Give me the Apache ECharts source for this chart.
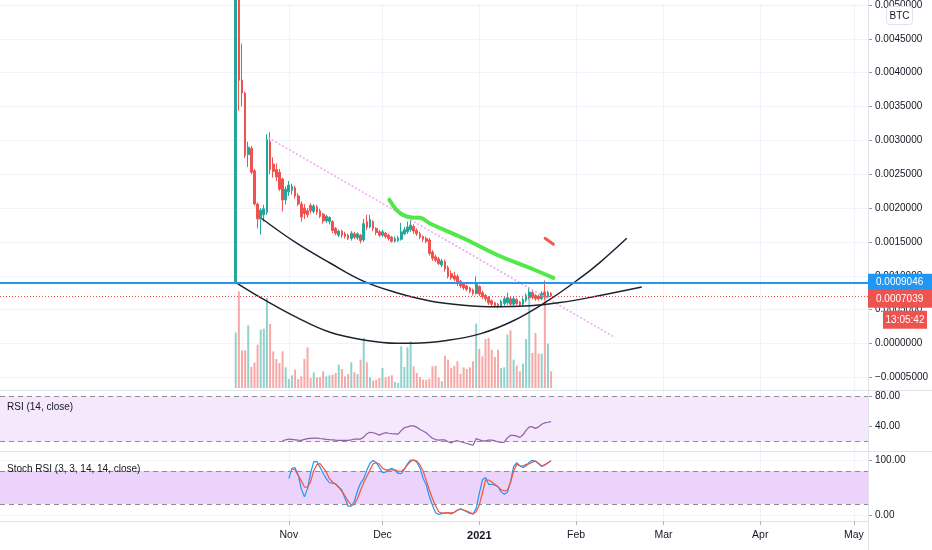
<!DOCTYPE html>
<html>
<head>
<meta charset="utf-8">
<script src="https://cdn.jsdelivr.net/npm/echarts@6/dist/echarts.min.js"></script>
<style>html,body{margin:0;padding:0;background:#fff}#c{width:932px;height:550px}</style>
</head>
<body>
<div id="c"></div>
<script>
// ---------- data ----------
const AXIS_START = '2020-08-01';
const AXIS_DAYS = 278;
const LABEL_FROM = '2020-11-01';
const FIRST_CANDLE = '2020-10-15';

const opens = [0.000905,0.00620,0.00389,0.00370,0.00279,0.00288,0.00255,0.00206,0.00184,0.00190,
0.00194,0.00298,0.00265,0.00257,0.00253,0.00243,0.00212,0.00224,0.00226,0.00230,
0.00218,0.00206,0.00200,0.00196,0.00204,0.00195,0.00202,0.00196,0.00191,0.00181,
0.00180,0.00180,0.00170,0.00160,0.00166,0.00162,0.00160,0.00155,0.00162,0.00156,
0.00160,0.00153,0.00180,0.00172,0.00180,0.00170,0.00165,0.00160,0.00163,0.00160,
0.00157,0.00151,0.00152,0.00154,0.00162,0.00165,0.00168,0.00173,0.00167,0.00162,
0.00158,0.00155,0.00153,0.00135,0.00128,0.00125,0.00116,0.00121,0.00112,0.00103,
0.00100,0.00099,0.00092,0.00088,0.00085,0.00082,0.00079,0.00074,0.00084,0.00075,
0.00071,0.00068,0.00063,0.00060,0.00058,0.00055,0.00059,0.00060,0.00066,0.00058,
0.00065,0.00061,0.00058,0.00064,0.00068,0.00075,0.00071,0.00070,0.00066,0.00076,
0.00069,0.00074];
const closes = [0.00620,0.00389,0.00370,0.00278,0.00290,0.00253,0.00206,0.00184,0.00197,0.00199,
0.00301,0.00257,0.00254,0.00246,0.00228,0.00212,0.00228,0.00234,0.00232,0.00218,
0.00206,0.00187,0.00192,0.00190,0.00196,0.00203,0.00194,0.00188,0.00181,0.00188,
0.00186,0.00167,0.00163,0.00166,0.00160,0.00158,0.00155,0.00163,0.00157,0.00162,
0.00152,0.00177,0.00172,0.00183,0.00170,0.00164,0.00160,0.00165,0.00158,0.00155,
0.00151,0.00155,0.00156,0.00165,0.00168,0.00172,0.00175,0.00166,0.00162,0.00157,
0.00154,0.00151,0.00133,0.00126,0.00123,0.00118,0.00122,0.00110,0.00099,0.00097,
0.00095,0.00089,0.00085,0.00082,0.00080,0.00077,0.00074,0.00088,0.00073,0.00069,
0.00066,0.00060,0.00058,0.00056,0.00055,0.00062,0.00066,0.00068,0.00058,0.00066,
0.00059,0.00057,0.00065,0.00071,0.00076,0.00068,0.00066,0.00066,0.00074,0.00069,
0.00075,0.0007039];
const lows = [0.00089,0.00344,0.00350,0.00274,0.00261,0.00250,0.00204,0.00170,0.00161,0.00180,
0.00190,0.00250,0.00245,0.00240,0.00225,0.00195,0.00205,0.00218,0.00220,0.00214,
0.00203,0.00180,0.00184,0.00186,0.00192,0.00192,0.00190,0.00185,0.00177,0.00178,
0.00176,0.00163,0.00160,0.00157,0.00156,0.00155,0.00153,0.00152,0.00154,0.00153,
0.00148,0.00150,0.00168,0.00170,0.00166,0.00160,0.00157,0.00157,0.00155,0.00152,
0.00149,0.00149,0.00150,0.00152,0.00160,0.00162,0.00165,0.00162,0.00159,0.00154,
0.00150,0.00148,0.00130,0.00122,0.00120,0.00116,0.00113,0.00106,0.00096,0.00094,
0.00092,0.00085,0.00082,0.00079,0.00077,0.00074,0.00071,0.00072,0.00070,0.00066,
0.00062,0.00057,0.00055,0.00053,0.00052,0.00053,0.00056,0.00057,0.00055,0.00055,
0.00056,0.00054,0.00055,0.00061,0.00065,0.00065,0.00063,0.00063,0.00064,0.00065,
0.00067,0.00069];
const highs = [0.00700,0.00650,0.00443,0.00372,0.00298,0.00292,0.00258,0.00208,0.00200,0.00205,
0.00309,0.00312,0.00275,0.00266,0.00258,0.00245,0.00232,0.00240,0.00236,0.00233,
0.00222,0.00210,0.00206,0.00200,0.00207,0.00206,0.00205,0.00199,0.00193,0.00190,
0.00188,0.00182,0.00172,0.00168,0.00168,0.00165,0.00162,0.00166,0.00165,0.00164,
0.00162,0.00184,0.00190,0.00190,0.00182,0.00172,0.00168,0.00168,0.00165,0.00162,
0.00159,0.00158,0.00159,0.00178,0.00172,0.00180,0.00182,0.00176,0.00170,0.00165,
0.00160,0.00158,0.00156,0.00138,0.00131,0.00128,0.00125,0.00124,0.00115,0.00108,
0.00106,0.00102,0.00094,0.00090,0.00087,0.00084,0.00081,0.00099,0.00086,0.00078,
0.00073,0.00070,0.00065,0.00062,0.00060,0.00065,0.00069,0.00075,0.00069,0.00069,
0.00067,0.00063,0.00068,0.00074,0.00083,0.00078,0.00073,0.00072,0.00077,0.00093,
0.00078,0.00076];
const volumes = [556,966,376,376,626,210,256,433,583,593,
900,640,366,290,250,367,207,90,127,183,
90,117,290,407,100,157,107,107,167,117,
127,133,150,233,190,117,140,257,157,140,
283,500,257,107,73,83,100,200,107,117,
127,60,50,417,210,407,467,217,150,110,
83,83,93,217,223,107,67,323,283,200,
223,267,140,207,190,207,267,643,390,317,
490,500,383,310,383,200,207,533,577,283,
223,167,243,490,910,350,550,343,343,966,
443,167];

const RSI_START = '2020-10-30';
const rsiValues = [21.3,22.5,23.5,23,22.5,22,21.8,23,24,24.3,
24.6,24.8,24.2,23.7,23.1,22.6,22.3,22,21.8,21.7,
21.7,21.7,22.4,23.5,23.5,23.5,26,30.5,32.3,31.7,
30.5,28.6,30.5,31.8,31.1,30.6,30.3,30,34.5,38.3,
39.5,40.7,40.8,38.8,36,34,31.7,28,24.5,22.8,
22,22.5,22.3,20,18.5,20.5,21.3,20,19,17.7,
16.5,15.3,24,22.5,21,21.2,22.2,22,21,19.7,
19,19.5,25,28.2,28.2,27.3,25.7,29,34.8,39.5,
39.6,37.5,39.4,42.8,44.8,45.5,46.4];

const STOCH_K_START = '2020-11-01';
const stochK = [66,85,86,73,47,33,48,77,97,97,
87,76,66,58.6,58,56.5,51,45,30,16,
16,25,44,58,66,82,94,99,95.5,86,
77,78,82,85,81,76,75,83,93,100,
100,96,85.5,67,55,34,18,4,1,2.5,
3.3,4,2,5,9,11.5,8.5,6,3,2.2,
12,39,64,68,55.8,55.8,54,51.7,42,37.6,
41.5,60,88,95,89,86.5,89,96,99.5,97.5,
93,88,91,95,98.5];
const STOCH_D_START = '2020-11-02';
const stochD = [84,82,72,62,51,50,61,81,91.5,93.5,
86,78,66,60,56,50,43,35,25,18,
19,30,45,59,70,82,93,95,92.5,85,
82,82,82,82,80,79,84,91,97,100,
98,91,80,63,46,30,17,6,3.5,3.8,
4,4,5,8.5,11,9,7,4.5,2,6,
18,40,63.6,63.6,60,56,51,46,44,45,
59,80,92,90,89,92,93,96,98,94,
89,91.5,95,98];

const priceTicks = [-0.0005,0,0.0005,0.001,0.0015,0.002,0.0025,0.003,0.0035,0.004,0.0045,0.005];
const priceView = [-0.000687, 0.0050146];
const volumeView = [0, 980];
const rsiTicks = [40, 80];
const rsiView = [7.8, 86.5];
const rsiBand = [20, 80];
const stochTicks = [0, 100];
const stochView = [-10.9, 114.5];
const stochBand = [20, 80];
const horizontalLevel = 0.0009046;
const lastPrice = 0.0007039;
const countdown = '13:05:42';

// user drawings: [days since AXIS_START, price]
const trendLine = [[85.44,0.003041],[196.49,0.0000877]];
const greenBrush = [[124.19,0.002124],[126.56,0.001969],[128.68,0.001896],[131.37,0.001861],[134.03,0.001857],[137.23,0.001773],[147.90,0.001554],[158.60,0.001311],[169.26,0.001115],[176.73,0.000969]];
const redBrush = [[174.07,0.001554],[176.73,0.001466]];
const arcLower = [[75.32,0.000892],[83.84,0.000654],[94.53,0.000385],[105.20,0.000165],[115.87,0.000054],[126.56,0.000004],[131.88,0.000004],[142.58,0.000044],[153.25,0.000142],[163.91,0.000336],[174.61,0.000621],[185.28,0.000965],[191.68,0.001199],[200.24,0.001554]];
const arcUpper = [[83.32,0.001846],[94.53,0.001481],[105.20,0.001189],[115.87,0.000921],[126.56,0.000750],[137.23,0.000629],[147.90,0.000566],[158.60,0.000541],[169.26,0.000556],[178.87,0.000604],[191.68,0.000709],[205.04,0.000833]];

// ---------- build ----------
const FONT = "'Liberation Sans', Arial, sans-serif";
const TEXT = '#131722';
const GRID_LINE = '#f0f3fa';
const UP = '#26a69a', DOWN = '#ef5350';
const UP_VOL = 'rgba(38,166,154,0.5)', DOWN_VOL = 'rgba(239,83,80,0.5)';
const MONTHS = ['Jan','Feb','Mar','Apr','May','Jun','Jul','Aug','Sep','Oct','Nov','Dec'];

function dayString(offset) {
  const p = AXIS_START.split('-').map(Number);
  return new Date(Date.UTC(p[0], p[1] - 1, p[2] + offset)).toISOString().slice(0, 10);
}
const axisDays = [];
for (let i = 0; i < AXIS_DAYS; i++) axisDays.push(dayString(i));
const idx = s => axisDays.indexOf(s);
const seriesFrom = (start, values) => values.map((v, i) => [axisDays[idx(start) + i], v]);

const c0 = idx(FIRST_CANDLE);
const candleData = opens.map((o, i) => [axisDays[c0 + i], o, closes[i], lows[i], highs[i]]);
const volumeData = volumes.map((v, i) => ({
  value: [axisDays[c0 + i], v],
  itemStyle: { color: closes[i] >= opens[i] ? UP_VOL : DOWN_VOL }
}));

const isMonthMark = (i, v) => v.slice(8) === '01' && v >= LABEL_FROM;
function monthLabel(v) {
  const m = +v.slice(5, 7);
  return m === 1 ? '{y|' + v.slice(0, 4) + '}' : MONTHS[m - 1];
}
function fmtPrice(v) {
  return (v < 0 ? '\u2212' : '') + Math.abs(v).toFixed(7);
}

function catAxis(gridIndex, extra) {
  return Object.assign({
    type: 'category', gridIndex, data: axisDays, boundaryGap: true,
    axisLine: { show: false, onZero: false }, axisTick: { show: false }, axisLabel: { show: false },
    splitLine: { show: true, interval: isMonthMark, alignWithLabel: true, lineStyle: { color: GRID_LINE, width: 1 } }
  }, extra);
}
function valAxis(gridIndex, view, ticks, fmt) {
  return {
    type: 'value', gridIndex, position: 'right', min: view[0], max: view[1],
    axisLine: { show: false, onZero: false },
    axisTick: { show: true, length: 4, customValues: ticks, lineStyle: { color: '#9598a1' } },
    axisLabel: { customValues: ticks, formatter: fmt, color: TEXT, fontSize: 10, fontFamily: FONT, margin: 7 },
    splitLine: { show: true, lineStyle: { color: GRID_LINE } }
  };
}
const dashed = { color: '#8a8d96', width: 1, type: [5, 4] };
const tagText = { color: '#fff', fontSize: 10, fontFamily: FONT };

const option = {
  animation: false,
  backgroundColor: '#ffffff',
  grid: [
    { left: 0, right: 64, top: 0, height: 390 },
    { left: 0, right: 64, top: 290, height: 98 },
    { left: 0, right: 64, top: 391, height: 60 },
    { left: 0, right: 64, top: 452, height: 69 }
  ],
  xAxis: [
    catAxis(0, {}),
    catAxis(1, { show: false }),
    catAxis(2, {}),
    catAxis(3, {
      axisLine: { show: true, onZero: false, lineStyle: { color: '#e0e3eb' } },
      axisTick: { show: true, interval: isMonthMark, alignWithLabel: true, length: 4, lineStyle: { color: '#b2b5be' } },
      axisLabel: {
        show: true, interval: isMonthMark, formatter: monthLabel,
        color: TEXT, fontSize: 10.5, fontFamily: FONT, margin: 9,
        rich: { y: { fontWeight: 'bold', fontSize: 11, fontFamily: FONT, color: TEXT } }
      }
    }),
    { type: 'value', gridIndex: 0, min: -0.5, max: AXIS_DAYS - 0.5, show: false, axisLine: { show: false, onZero: false } }
  ],
  yAxis: [
    valAxis(0, priceView, priceTicks, fmtPrice),
    { type: 'value', gridIndex: 1, min: volumeView[0], max: volumeView[1], show: false, axisLine: { show: false, onZero: false } },
    valAxis(2, rsiView, rsiTicks, v => v.toFixed(2)),
    valAxis(3, stochView, stochTicks, v => v.toFixed(2))
  ],
  series: [
    {
      type: 'bar', name: 'Volume', xAxisIndex: 1, yAxisIndex: 1, data: volumeData,
      barWidth: 2, z: 1, silent: true
    },
    {
      type: 'candlestick', name: 'Price', xAxisIndex: 0, yAxisIndex: 0, z: 3,
      data: candleData, encode: { x: 0, y: [1, 2, 3, 4] },
      barWidth: 2.2,
      itemStyle: { color: UP, color0: DOWN, borderColor: UP, borderColor0: DOWN, borderWidth: 1 }
    },
    {
      type: 'line', name: 'Trend', xAxisIndex: 4, yAxisIndex: 0, data: trendLine, showSymbol: false, silent: true, z: 4,
      lineStyle: { color: '#eba6f3', width: 1.5, type: [2, 2] },
      markLine: {
        silent: true, symbol: ['none', 'none'], animation: false, precision: 10,
        data: [
          {
            yAxis: horizontalLevel,
            lineStyle: { color: '#2196f3', width: 2, type: 'solid' },
            label: {
              show: true, position: 'end', distance: 0,
              formatter: () => '{p|' + fmtPrice(horizontalLevel) + '}',
              rich: { p: Object.assign({ backgroundColor: '#2196f3', width: 56, height: 17, lineHeight: 17, padding: [0, 0, 0, 8], align: 'left' }, tagText) }
            }
          },
          {
            yAxis: lastPrice,
            lineStyle: { color: DOWN, width: 1, type: [1, 2] },
            label: {
              show: true, position: 'end', distance: 0,
              formatter: () => '{g|}\n{p|' + fmtPrice(lastPrice) + '}\n{gap|}\n{s|}{t|' + countdown + '}',
              rich: {
                g: { width: 1, height: 27, lineHeight: 27 },
                p: Object.assign({ backgroundColor: DOWN, width: 56, height: 18, lineHeight: 18, padding: [0, 0, 0, 8], align: 'left' }, tagText),
                gap: { width: 1, height: 3, lineHeight: 3 },
                s: { width: 10, height: 18, lineHeight: 18 },
                t: Object.assign({ backgroundColor: DOWN, width: 44, height: 18, lineHeight: 18, align: 'center' }, tagText)
              }
            }
          }
        ]
      }
    },
    {
      type: 'line', name: 'Arc lower', xAxisIndex: 4, yAxisIndex: 0, data: arcLower, smooth: 0.4, showSymbol: false, silent: true, z: 4,
      lineStyle: { color: '#1e222d', width: 1.5 }
    },
    {
      type: 'line', name: 'Arc upper', xAxisIndex: 4, yAxisIndex: 0, data: arcUpper, smooth: 0.4, showSymbol: false, silent: true, z: 4,
      lineStyle: { color: '#1e222d', width: 1.5 }
    },
    {
      type: 'line', name: 'Brush green', xAxisIndex: 4, yAxisIndex: 0, data: greenBrush, smooth: 0.4, showSymbol: false, silent: true, z: 4,
      lineStyle: { color: '#52e84a', width: 4, cap: 'round', join: 'round' }
    },
    {
      type: 'line', name: 'Brush red', xAxisIndex: 4, yAxisIndex: 0, data: redBrush, showSymbol: false, silent: true, z: 4,
      lineStyle: { color: '#f05a5a', width: 3, cap: 'round' }
    },
    {
      type: 'line', name: 'RSI', xAxisIndex: 2, yAxisIndex: 2, data: seriesFrom(RSI_START, rsiValues),
      showSymbol: false, silent: true, lineStyle: { color: '#8e5ea8', width: 1.2 },
      markArea: { silent: true, itemStyle: { color: '#f5e8fd' }, data: [[{ yAxis: rsiBand[1] }, { yAxis: rsiBand[0] }]] },
      markLine: { silent: true, symbol: ['none', 'none'], precision: 4, label: { show: false }, lineStyle: dashed, data: [{ yAxis: rsiBand[1] }, { yAxis: rsiBand[0] }] }
    },
    {
      type: 'line', name: 'K', xAxisIndex: 3, yAxisIndex: 3, data: seriesFrom(STOCH_K_START, stochK),
      showSymbol: false, silent: true, z: 3, lineStyle: { color: '#2196f3', width: 1.2 },
      markArea: { silent: true, itemStyle: { color: '#ebd3fc' }, data: [[{ yAxis: stochBand[1] }, { yAxis: stochBand[0] }]] },
      markLine: { silent: true, symbol: ['none', 'none'], precision: 4, label: { show: false }, lineStyle: dashed, data: [{ yAxis: stochBand[1] }, { yAxis: stochBand[0] }] }
    },
    {
      type: 'line', name: 'D', xAxisIndex: 3, yAxisIndex: 3, data: seriesFrom(STOCH_D_START, stochD),
      showSymbol: false, silent: true, z: 3, lineStyle: { color: '#f5533d', width: 1.2 }
    }
  ],
  graphic: [
    { type: 'line', silent: true, z: 1, shape: { x1: 0, y1: 390.5, x2: 932, y2: 390.5 }, style: { stroke: '#e0e3eb', lineWidth: 1 } },
    { type: 'line', silent: true, z: 1, shape: { x1: 0, y1: 451.5, x2: 932, y2: 451.5 }, style: { stroke: '#e0e3eb', lineWidth: 1 } },
    { type: 'line', silent: true, z: 1, shape: { x1: 868.5, y1: 0, x2: 868.5, y2: 550 }, style: { stroke: '#e0e3eb', lineWidth: 1 } },
    { type: 'text', silent: true, z: 10, x: 7, y: 407, style: { text: 'RSI (14, close)', fill: TEXT, fontSize: 10, fontFamily: FONT, verticalAlign: 'middle', align: 'left' } },
    { type: 'text', silent: true, z: 10, x: 7, y: 469, style: { text: 'Stoch RSI (3, 3, 14, 14, close)', fill: TEXT, fontSize: 10, fontFamily: FONT, verticalAlign: 'middle', align: 'left' } },
    { type: 'rect', silent: true, z: 5, shape: { x: 886.5, y: 6.5, width: 26, height: 18, r: 3 }, style: { fill: '#ffffff', stroke: '#e0e3eb', lineWidth: 1 } },
    { type: 'text', silent: true, z: 6, x: 899.5, y: 16, style: { text: 'BTC', fill: TEXT, fontSize: 10, fontFamily: FONT, verticalAlign: 'middle', align: 'center' } }
  ]
};

const chart = echarts.init(document.getElementById('c'), null, { renderer: 'canvas' });
chart.setOption(option);
</script>
</body>
</html>
